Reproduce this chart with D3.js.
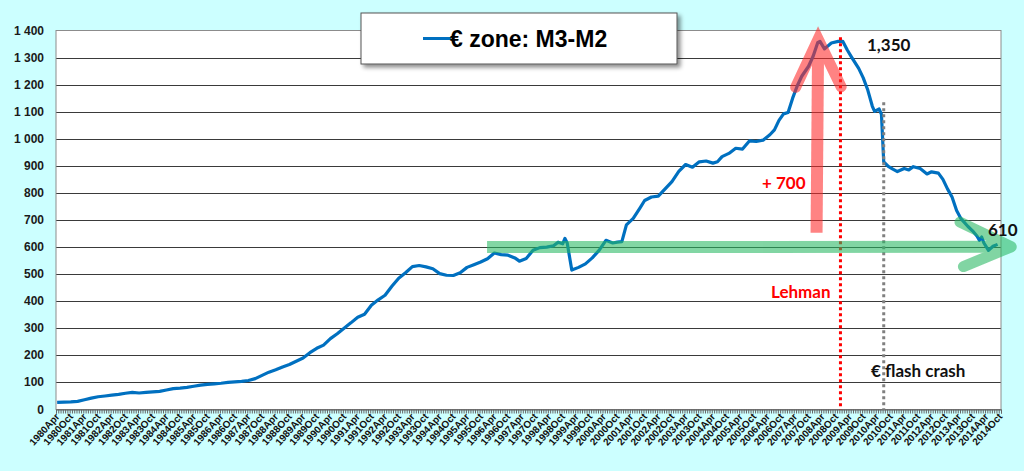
<!DOCTYPE html>
<html>
<head>
<meta charset="utf-8">
<script src="https://cdn.jsdelivr.net/npm/d3@7"></script>
<style>
  body { margin: 0; background: #ccffff; }
  svg { display: block; }
</style>
</head>
<body>
<div></div>
<script>
// M3 minus M2, euro area (bn EUR)
const months = [
  "1980-04","1980-07","1980-10","1981-01","1981-04","1981-07","1981-10","1982-01","1982-04","1982-07",
  "1982-10","1983-01","1983-04","1983-07","1983-10","1984-01","1984-04","1984-07","1984-10","1985-01",
  "1985-04","1985-07","1985-10","1986-01","1986-04","1986-07","1986-10","1987-01","1987-04","1987-07",
  "1987-10","1988-01","1988-04","1988-07","1988-10","1989-01","1989-04","1989-07","1989-10","1990-01",
  "1990-04","1990-07","1990-10","1991-01","1991-04","1991-07","1991-10","1992-01","1992-04","1992-07",
  "1992-10","1993-01","1993-04","1993-07","1993-10","1994-01","1994-04","1994-07","1994-10","1995-01",
  "1995-04","1995-07","1995-10","1996-01","1996-04","1996-07","1996-10","1997-01","1997-03","1997-06",
  "1997-09","1997-12","1998-03","1998-06","1998-08","1998-10","1998-11","1998-12","1999-02","1999-05",
  "1999-08","1999-11","2000-02","2000-05","2000-08","2000-10","2000-12","2001-02","2001-05","2001-08",
  "2001-10","2002-01","2002-04","2002-07","2002-10","2003-01","2003-04","2003-07","2003-10","2004-01",
  "2004-04","2004-06","2004-08","2004-11","2005-02","2005-05","2005-08","2005-11","2006-02","2006-05",
  "2006-07","2006-09","2006-11","2007-01","2007-03","2007-05","2007-07","2007-10","2007-12","2008-02",
  "2008-03","2008-05","2008-08","2008-11","2009-01","2009-03","2009-05","2009-08","2009-10","2009-12",
  "2010-02","2010-03","2010-05","2010-06","2010-07","2010-09","2010-11","2011-01","2011-04","2011-06",
  "2011-08","2011-11","2012-02","2012-04","2012-07","2012-09","2012-11","2013-01","2013-03","2013-05",
  "2013-08","2013-10","2013-12","2014-01","2014-02","2014-03","2014-05","2014-07","2014-09"
];
const m3m2 = [
  26, 27, 28, 30, 36, 42, 47, 50, 53, 56,
  60, 63, 61, 63, 65, 67, 72, 77, 79, 82,
  86, 90, 93, 95, 97, 100, 102, 104, 107, 114,
  126, 138, 147, 157, 166, 178, 190, 210, 226, 238,
  262, 280, 300, 320, 341, 352, 385, 405, 422, 455,
  485, 505, 528, 532, 527, 520, 502, 496, 495, 505,
  525, 535, 545, 557, 578, 572, 570, 560, 548, 558,
  588, 598, 600, 605, 618, 612, 632, 615, 515, 525,
  538, 560, 588, 625, 615, 618, 620, 682, 706, 745,
  772, 785, 788, 815, 842, 880, 905, 895, 915, 918,
  910, 915, 934, 946, 965, 962, 992, 990, 995, 1015,
  1033, 1068, 1092, 1097, 1150, 1195, 1231, 1268, 1305, 1355,
  1360, 1332, 1354, 1360, 1360, 1328, 1300, 1260, 1225, 1180,
  1120, 1101, 1110, 1090, 915, 898, 888, 879, 890, 885,
  897, 890, 870, 878, 873, 850, 815, 785, 735, 704,
  676, 660, 640, 625, 637, 615, 588, 603, 610
];
const yTicks = [0, 100, 200, 300, 400, 500, 600, 700, 800, 900, 1000, 1100, 1200, 1300, 1400];
const labelYears = d3.range(1980, 2015);
const labelHalves = ["Apr", "Oct"];
const lehmanMonth = "2008-12";
const crashMonth = "2010-07";

const W = 1024, H = 471;
const firstMonth = "1980-04", lastMonth = "2014-10";

function monthIdx(s) {
  const p = s.split("-").map(Number);
  return (p[0] - 1980) * 12 + p[1] - 4;
}

const nCat = monthIdx(lastMonth) - monthIdx(firstMonth) + 1;

const x = d3.scaleLinear().domain([-0.5, nCat - 0.5]).range([56, 1001]);
const y = d3.scaleLinear().domain([0, 1400]).range([409.5, 30.5]);

const data = months.map((m, i) => ({ m: monthIdx(m), v: m3m2[i] }));

const svg = d3.select("div").append("svg").attr("width", W).attr("height", H);

const defs = svg.append("defs");
const shadow = defs.append("filter").attr("id", "shadow")
  .attr("x", "-10%").attr("y", "-20%").attr("width", "130%").attr("height", "160%");
shadow.append("feDropShadow").attr("dx", 3).attr("dy", 3).attr("stdDeviation", 2)
  .attr("flood-color", "#000").attr("flood-opacity", 0.45);

// plot area
svg.append("rect")
  .attr("x", 56).attr("y", 30.5)
  .attr("width", 945).attr("height", 379)
  .attr("fill", "#fff");

const grid = svg.append("g");
grid.selectAll("line").data(yTicks.filter(d => d > 0 && d < 1400)).enter()
  .append("line")
  .attr("x1", 56).attr("x2", 1001)
  .attr("y1", d => Math.round(y(d)) + 0.5).attr("y2", d => Math.round(y(d)) + 0.5)
  .attr("stroke", "#3a3a3a").attr("stroke-width", 1.2);

svg.append("rect")
  .attr("x", 56).attr("y", 30.5)
  .attr("width", 945).attr("height", 379)
  .attr("fill", "none").attr("stroke", "#8c8c8c").attr("stroke-width", 1);

// y labels
svg.append("g").selectAll("text").data(yTicks).enter()
  .append("text")
  .attr("x", 44).attr("y", d => y(d) + 4)
  .attr("text-anchor", "end")
  .attr("font-family", "Liberation Sans, Arial, sans-serif")
  .attr("font-weight", "bold").attr("font-size", 12)
  .attr("fill", "#1a1a1a")
  .text(d => d3.format(",")(d).replace(",", " "));

// x axis: monthly tick marks
const xAxis = d3.axisBottom(x)
  .tickValues(d3.range(nCat + 1).map(k => k - 0.5))
  .tickSize(4).tickFormat("");
const gx = svg.append("g").attr("transform", "translate(0,409.5)").call(xAxis);
gx.select(".domain").attr("stroke", "#555");
gx.selectAll(".tick line").attr("stroke", "#666").attr("stroke-width", 1);

const xLabels = [];
labelYears.forEach(yr => labelHalves.forEach(h => xLabels.push(yr + h)));

svg.append("g").selectAll("text").data(xLabels).enter()
  .append("text")
  .attr("transform", (d, i) => "translate(" + (x(i * 6) + 3) + ",417) rotate(-48)")
  .attr("text-anchor", "end")
  .attr("font-family", "Liberation Sans, Arial, sans-serif")
  .attr("font-weight", "bold").attr("font-size", 10)
  .attr("fill", "#111")
  .text(d => d);

// series
const line = d3.line().x(d => x(d.m)).y(d => y(d.v));
svg.append("path")
  .datum(data)
  .attr("d", line)
  .attr("fill", "none")
  .attr("stroke", "#0070c0")
  .attr("stroke-width", 3.2)
  .attr("stroke-linejoin", "round");

// event lines
svg.append("line")
  .attr("x1", x(monthIdx(lehmanMonth))).attr("x2", x(monthIdx(lehmanMonth)))
  .attr("y1", y(1375)).attr("y2", y(0))
  .attr("stroke", "#ff0000").attr("stroke-width", 3).attr("stroke-dasharray", "3,3");

svg.append("line")
  .attr("x1", x(monthIdx(crashMonth))).attr("x2", x(monthIdx(crashMonth)))
  .attr("y1", y(1135)).attr("y2", y(0))
  .attr("stroke", "#808080").attr("stroke-width", 3).attr("stroke-dasharray", "3,3");

// red arrow (+700)
const redArrow = svg.append("g").attr("opacity", 0.58);
redArrow.append("path")
  .attr("d", d3.line()([[x(333.5), y(653)], [x(334.2), y(1368)]]))
  .attr("stroke", "#ff2a2a").attr("stroke-width", 12).attr("fill", "none");
redArrow.append("path")
  .attr("d", d3.line()([[x(324.3), y(1190)], [x(334.2), y(1368)], [x(344.3), y(1192)]]))
  .attr("stroke", "#ff2a2a").attr("stroke-width", 11).attr("fill", "none")
  .attr("stroke-linejoin", "miter").attr("stroke-linecap", "round");

// green arrow (flat level)
const greenArrow = svg.append("g").attr("opacity", 0.58);
greenArrow.append("path")
  .attr("d", d3.line()([[x(188.8), y(600)], [x(418.5), y(601)]]))
  .attr("stroke", "#28b862").attr("stroke-width", 12).attr("fill", "none");
greenArrow.append("path")
  .attr("d", d3.line()([[x(396.5), y(692)], [x(419), y(601)], [x(398), y(528)]]))
  .attr("stroke", "#28b862").attr("stroke-width", 11).attr("fill", "none")
  .attr("stroke-linejoin", "round").attr("stroke-linecap", "round");

// annotation text
const ann = svg.append("g")
  .attr("font-family", "Lato, Open Sans, sans-serif")
  .attr("font-weight", "bold");
ann.append("text").attr("x", 762).attr("y", 189).attr("font-size", 17).attr("fill", "#ff0000").text("+ 700");
ann.append("text").attr("x", 771).attr("y", 298).attr("font-size", 17).attr("fill", "#ff0000").text("Lehman");
ann.append("text").attr("x", 867).attr("y", 51).attr("font-size", 17).attr("fill", "#111").text("1,350");
ann.append("text").attr("x", 988).attr("y", 236).attr("font-size", 17).attr("fill", "#111").text("610");
ann.append("text").attr("x", 871).attr("y", 377).attr("font-size", 17).attr("fill", "#111").text("€ flash crash");

// legend / title box
const box = svg.append("g");
box.append("rect")
  .attr("x", 361).attr("y", 13).attr("width", 316).attr("height", 51)
  .attr("fill", "#fff").attr("stroke", "#555").attr("stroke-width", 1)
  .attr("filter", "url(#shadow)");
box.append("line")
  .attr("x1", 423).attr("x2", 451).attr("y1", 38.5).attr("y2", 38.5)
  .attr("stroke", "#0070c0").attr("stroke-width", 3);
box.append("text")
  .attr("x", 450).attr("y", 47)
  .attr("font-family", "Liberation Sans, Arial, sans-serif")
  .attr("font-weight", "bold").attr("font-size", 23)
  .attr("fill", "#000")
  .text("€ zone: M3-M2");
</script>
</body>
</html>
